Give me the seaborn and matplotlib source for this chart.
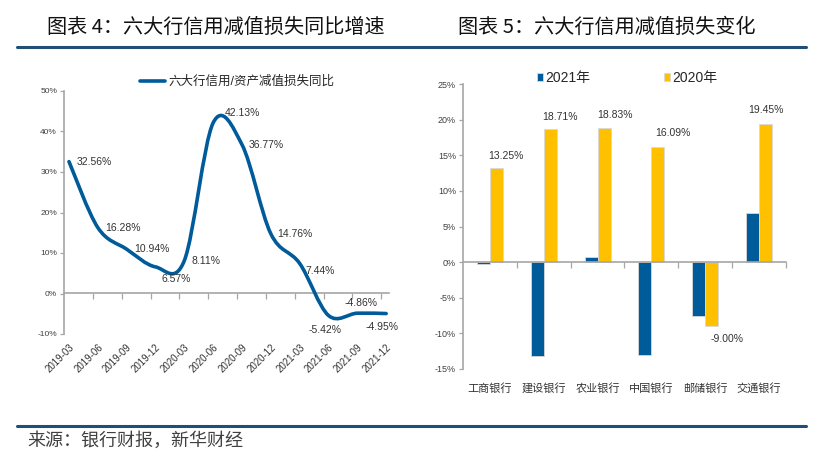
import numpy as np
import pandas as pd
import matplotlib
matplotlib.use('Agg')
import matplotlib.pyplot as plt
from matplotlib.path import Path
from matplotlib.patches import PathPatch
from matplotlib.lines import Line2D
from matplotlib.ticker import MultipleLocator, FixedLocator, FuncFormatter
import seaborn as sns

# 图表4：六大行信用/资产减值损失同比
quarters = ['2019-03', '2019-06', '2019-09', '2019-12', '2020-03', '2020-06',
            '2020-09', '2020-12', '2021-03', '2021-06', '2021-09', '2021-12']
yoy = [32.56, 16.28, 10.94, 6.57, 8.11, 42.13, 36.77, 14.76, 7.44, -5.42, -4.86, -4.95]

# 图表5：各行信用减值损失变化
banks = ['工商银行', '建设银行', '农业银行', '中国银行', '邮储银行', '交通银行']
chg_2021 = [-0.2, -13.2, 0.7, -13.0, -7.6, 6.9]
chg_2020 = [13.25, 18.71, 18.83, 16.09, -9.00, 19.45]
years = ['2021年', '2020年']

BLUE = '#005b9a'
GOLD = '#ffc000'
GRAY = '#a6a6a6'
RULE = '#1f4e79'
TXT = '#333333'

sns.set_theme(style='white')
plt.rcParams['font.family'] = ['Liberation Sans', 'Noto Sans CJK SC', 'DejaVu Sans']
plt.rcParams['axes.unicode_minus'] = False

fig = plt.figure(figsize=(8.17, 4.62), dpi=100)
W, H = 817, 462


def box(x0, x1, ytop, ybot):
    return [x0 / W, 1 - ybot / H, (x1 - x0) / W, (ybot - ytop) / H]


pct = FuncFormatter(lambda v, p: f'{v:.0f}%')

# ---------- 左图：平滑折线 ----------
ax1 = fig.add_axes(box(64, 389, 91, 334))
x = np.arange(len(yoy))
pts = np.column_stack([x, yoy]).astype(float)
ext = np.vstack([pts[0], pts, pts[-1]])
verts = [pts[0]]
codes = [Path.MOVETO]
for i in range(len(pts) - 1):
    p0, p1, p2, p3 = ext[i], ext[i + 1], ext[i + 2], ext[i + 3]
    verts += [p1 + (p2 - p0) / 6, p2 - (p3 - p1) / 6, p2]
    codes += [Path.CURVE4] * 3
ax1.add_patch(PathPatch(Path(verts, codes), fill=False, edgecolor=BLUE, lw=2.6,
                        capstyle='round', joinstyle='round', zorder=3))

ax1.set_xlim(-0.173, 11.10)
ax1.set_ylim(-10, 50)
ax1.yaxis.set_major_locator(MultipleLocator(10))
ax1.yaxis.set_major_formatter(pct)
ax1.xaxis.set_major_locator(FixedLocator(x))
ax1.set_xticklabels(quarters)
ax1.xaxis.set_minor_locator(FixedLocator(x[:-1] + 0.83))

# 标签偏移（点）
lab_dx = [18, 17.8, 18.3, 14.8, 15.8, 21.2, 17.8, 17.6, 14.4, -2.7, 2.5, -3.2]
lab_dy = [0, 0, 0, -9, 0, 7.2, 0, 0, -5.8, -10.8, 7.6, -10]
for xi, v, dx, dy in zip(x, yoy, lab_dx, lab_dy):
    ax1.annotate(f'{v:.2f}%', (xi, v), xytext=(dx, dy), textcoords='offset points',
                 ha='center', va='center', fontsize=7.5, color=TXT)

ax1.legend(handles=[Line2D([], [], color=BLUE, lw=2.6)], labels=['六大行信用/资产减值损失同比'],
           loc='center', bbox_to_anchor=(0.532, 1.037), frameon=False, fontsize=9,
           handlelength=2.0, handletextpad=0.25, borderaxespad=0, borderpad=0)

# ---------- 右图：分组柱状 ----------
ax2 = fig.add_axes(box(463, 786, 84, 369))
df = pd.DataFrame({
    'bank': banks * 2,
    'year': [years[0]] * len(banks) + [years[1]] * len(banks),
    'value': chg_2021 + chg_2020,
})
sns.barplot(data=df, x='bank', y='value', hue='year', hue_order=years,
            palette=[BLUE, GOLD], saturation=1, width=0.48, gap=0,
            edgecolor='#d9d9d9', linewidth=0.6, ax=ax2, zorder=2)
ax2.set_xlabel('')
ax2.set_ylabel('')
ax2.set_xlim(-0.5, 5.5)
ax2.set_ylim(-15, 25)
ax2.yaxis.set_major_locator(MultipleLocator(5))
ax2.yaxis.set_major_formatter(pct)
ax2.xaxis.set_minor_locator(FixedLocator(np.arange(len(banks)) + 0.5))

bar_dx = [7, 7, 8, 11, 11, 0]
bar_dy = [8.5, 8.6, 9.4, 10.6, -9.4, 9.7]
for bar, v, dx, dy in zip(ax2.containers[1], chg_2020, bar_dx, bar_dy):
    ax2.annotate(f'{v:.2f}%', (bar.get_x() + bar.get_width() / 2, v), xytext=(dx, dy),
                 textcoords='offset points', ha='center', va='center', fontsize=7.5, color=TXT)

sns.move_legend(ax2, 'center', bbox_to_anchor=((627 - 463) / 323, 1.021), ncol=2,
                frameon=False, title=None, fontsize=10, handlelength=0.45,
                handleheight=0.45, handletextpad=0.15, columnspacing=5.3,
                borderaxespad=0, borderpad=0)

# ---------- 两图共用的轴样式 ----------
for ax, ysize in ((ax1, 6), (ax2, 6.5)):
    ax.spines['right'].set_visible(False)
    ax.spines['bottom'].set_visible(False)
    ax.spines['top'].set_position(('data', 0))
    for s in ('top', 'left'):
        ax.spines[s].set_color(GRAY)
        ax.spines[s].set_linewidth(1.2)
    ax.tick_params(axis='x', which='minor', bottom=False, top=True, direction='in',
                   length=4, width=0.9, color=GRAY)
    ax.tick_params(axis='x', which='major', bottom=True, top=False, length=0,
                   labelcolor=TXT)
    ax.tick_params(axis='y', which='major', left=True, direction='out', length=3,
                   width=0.9, color=GRAY, labelsize=ysize, labelcolor='#404040', pad=2)
    ax.grid(False)

ax1.tick_params(axis='x', which='major', labelsize=7, pad=6)
ax2.tick_params(axis='x', which='major', labelsize=8, pad=10)
for t in ax1.get_xticklabels():
    t.set_rotation(45)
    t.set_ha('right')
    t.set_va('top')
    t.set_rotation_mode('anchor')
for t in ax2.get_xticklabels():
    t.set_fontfamily(['Noto Sans CJK SC', 'DejaVu Sans'])

# ---------- 标题、分隔线、来源 ----------
tfont = ['Noto Sans CJK SC', 'DejaVu Sans']
fig.text(47 / W, 1 - 27 / H, '图表 4：六大行信用减值损失同比增速', ha='left', va='center',
         fontsize=14.5, color='#111111', family=tfont, weight='medium')
fig.text(458 / W, 1 - 27 / H, '图表 5：六大行信用减值损失变化', ha='left', va='center',
         fontsize=14.5, color='#111111', family=tfont, weight='medium')
for yy in (47, 426):
    fig.add_artist(Line2D([17 / W, 806 / W], [1 - yy / H] * 2, color=RULE, lw=2.2,
                          transform=fig.transFigure))
fig.text(27 / W, 1 - 441 / H, '来源：银行财报，新华财经', ha='left', va='center',
         fontsize=13, color='#404040', family=tfont)

fig.savefig('out.png', dpi=100)
